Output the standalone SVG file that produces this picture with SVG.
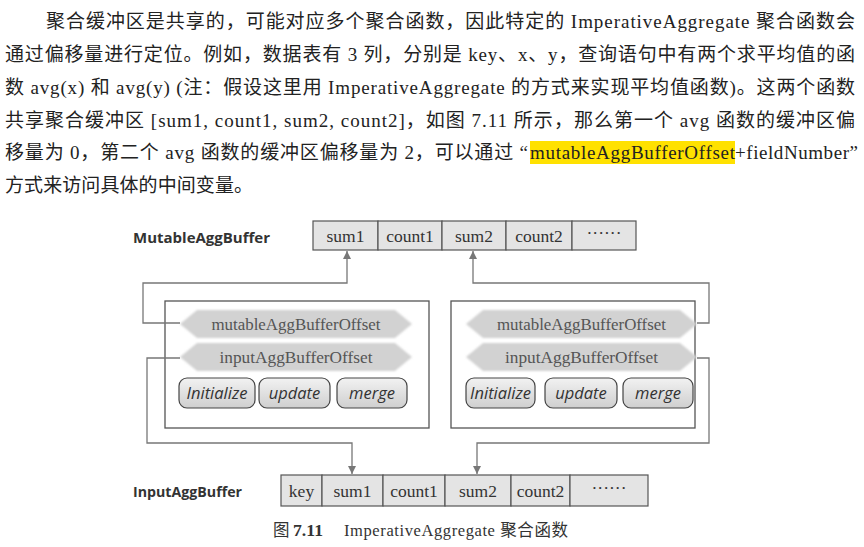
<svg xmlns="http://www.w3.org/2000/svg" width="864" height="547" viewBox="0 0 864 547">
  <style>
    .body { font-family: "Liberation Serif", "Noto Sans CJK SC", serif; font-size: 19px; fill: #222; }
    .lbl { font-family: "Open Sans", "Liberation Sans", sans-serif; font-weight: bold; font-size: 15px; fill: #333; }
    .cell { fill: #e4e4e4; stroke: #555; stroke-width: 1.2; }
    .ctext { font-family: "Liberation Serif", serif; font-size: 17.5px; fill: #333; text-anchor: middle; }
    .box { fill: #fff; stroke: #555; stroke-width: 1.3; }
    .hex { fill: #d2d2d2; }
    .htext { font-family: "Liberation Serif", serif; font-size: 16.5px; fill: #555; text-anchor: middle; }
    .btn { fill: url(#btnGrad); stroke: #444; stroke-width: 1.2; }
    .btext { font-family: "Open Sans", "Liberation Sans", sans-serif; font-style: italic; font-size: 16.5px; fill: #333; text-anchor: middle; }
    .conn { fill: none; stroke: #777; stroke-width: 1.3; }
    .cap { font-family: "Liberation Serif", "Noto Sans CJK SC", serif; font-size: 16.5px; fill: #333; }
  </style>
  <defs>
    <linearGradient id="btnGrad" x1="0" y1="0" x2="0" y2="1">
      <stop offset="0" stop-color="#f2f2f2"/>
      <stop offset="1" stop-color="#cfcfcf"/>
    </linearGradient>
    <filter id="soft" x="-5%" y="-20%" width="110%" height="140%">
      <feGaussianBlur stdDeviation="0.9"/>
    </filter>
    <marker id="arr" viewBox="0 0 10 10" refX="10" refY="5" markerWidth="8" markerHeight="8" markerUnits="userSpaceOnUse" orient="auto">
      <path d="M0,0 L10,5 L0,10 z" fill="#777"/>
    </marker>
  </defs>

  <rect width="864" height="547" fill="#fff"/>

  <!-- body paragraph -->
  <g id="paragraph">
    <rect x="530" y="141" width="205" height="23" fill="#ffe100"/>
    <text class="body" x="46" y="28" textLength="809" lengthAdjust="spacing">聚合缓冲区是共享的，可能对应多个聚合函数，因此特定的 ImperativeAggregate 聚合函数会</text>
    <text class="body" x="5" y="61" textLength="850" lengthAdjust="spacing">通过偏移量进行定位。例如，数据表有 3 列，分别是 key、x、y，查询语句中有两个求平均值的函</text>
    <text class="body" x="5" y="94" textLength="850" lengthAdjust="spacing">数 avg(x) 和 avg(y) (注：假设这里用 ImperativeAggregate 的方式来实现平均值函数)。这两个函数</text>
    <text class="body" x="5" y="127" textLength="850" lengthAdjust="spacing">共享聚合缓冲区 [sum1, count1, sum2, count2]，如图 7.11 所示，那么第一个 avg 函数的缓冲区偏</text>
    <text class="body" y="159">
      <tspan x="5" textLength="523" lengthAdjust="spacing">移量为 0，第二个 avg 函数的缓冲区偏移量为 2，可以通过 “</tspan>
      <tspan x="530" textLength="205" lengthAdjust="spacing">mutableAggBufferOffset</tspan>
      <tspan x="735" textLength="123" lengthAdjust="spacing">+fieldNumber”</tspan>
    </text>
    <text class="body" x="5" y="192" textLength="248" lengthAdjust="spacing">方式来访问具体的中间变量。</text>
  </g>

  <!-- MutableAggBuffer -->
  <g id="mutableAggBuffer">
    <text class="lbl" x="133" y="243" textLength="137" lengthAdjust="spacingAndGlyphs">MutableAggBuffer</text>
    <rect class="cell" x="313" y="221" width="65" height="29"/>
    <rect class="cell" x="378" y="221" width="64" height="29"/>
    <rect class="cell" x="442" y="221" width="64" height="29"/>
    <rect class="cell" x="506" y="221" width="66" height="29"/>
    <rect class="cell" x="572" y="221" width="64" height="29"/>
    <text class="ctext" x="345.5" y="242">sum1</text>
    <text class="ctext" x="410" y="242">count1</text>
    <text class="ctext" x="474" y="242">sum2</text>
    <text class="ctext" x="539" y="242">count2</text>
    <text class="ctext" x="604" y="239">······</text>
  </g>

  <!-- left aggregate function -->
  <g id="aggFunc1">
    <rect class="box" x="165" y="301" width="264" height="127"/>
    <polygon class="hex" filter="url(#soft)" points="180,324 197,310 395,310 412,324 395,338 197,338"/>
    <polygon class="hex" filter="url(#soft)" points="180,357 197,343 395,343 412,357 395,371 197,371"/>
    <text class="htext" x="296" y="330" textLength="169" lengthAdjust="spacingAndGlyphs">mutableAggBufferOffset</text>
    <text class="htext" x="296" y="363" textLength="153" lengthAdjust="spacingAndGlyphs">inputAggBufferOffset</text>
    <rect class="btn" x="179" y="378" width="76" height="30" rx="8"/>
    <rect class="btn" x="259" y="378" width="71" height="30" rx="8"/>
    <rect class="btn" x="337" y="378" width="70" height="30" rx="8"/>
    <text class="btext" x="217" y="399">Initialize</text>
    <text class="btext" x="294.5" y="399">update</text>
    <text class="btext" x="372" y="399">merge</text>
  </g>

  <!-- right aggregate function -->
  <g id="aggFunc2">
    <rect class="box" x="451" y="301" width="244" height="127"/>
    <polygon class="hex" filter="url(#soft)" points="466,324 483,310 680,310 697,324 680,338 483,338"/>
    <polygon class="hex" filter="url(#soft)" points="466,357 483,343 680,343 697,357 680,371 483,371"/>
    <text class="htext" x="581.5" y="330" textLength="169" lengthAdjust="spacingAndGlyphs">mutableAggBufferOffset</text>
    <text class="htext" x="581.5" y="363" textLength="153" lengthAdjust="spacingAndGlyphs">inputAggBufferOffset</text>
    <rect class="btn" x="466" y="378" width="69" height="30" rx="8"/>
    <rect class="btn" x="545" y="378" width="72" height="30" rx="8"/>
    <rect class="btn" x="623" y="378" width="70" height="30" rx="8"/>
    <text class="btext" x="500.5" y="399">Initialize</text>
    <text class="btext" x="581" y="399">update</text>
    <text class="btext" x="658" y="399">merge</text>
  </g>

  <!-- InputAggBuffer -->
  <g id="inputAggBuffer">
    <text class="lbl" x="133" y="497" textLength="109" lengthAdjust="spacingAndGlyphs">InputAggBuffer</text>
    <rect class="cell" x="281" y="475" width="41" height="31"/>
    <rect class="cell" x="322" y="475" width="61" height="31"/>
    <rect class="cell" x="383" y="475" width="62" height="31"/>
    <rect class="cell" x="445" y="475" width="66" height="31"/>
    <rect class="cell" x="511" y="475" width="59" height="31"/>
    <rect class="cell" x="570" y="475" width="78" height="31"/>
    <text class="ctext" x="301.5" y="497">key</text>
    <text class="ctext" x="352.5" y="497">sum1</text>
    <text class="ctext" x="414" y="497">count1</text>
    <text class="ctext" x="478" y="497">sum2</text>
    <text class="ctext" x="540.5" y="497">count2</text>
    <text class="ctext" x="609" y="494">······</text>
  </g>

  <!-- connectors -->
  <g id="connectors">
    <path class="conn" marker-end="url(#arr)" d="M180,323 H143 V283 H347 V251"/>
    <path class="conn" marker-end="url(#arr)" d="M697,323 H709 V283 H473 V251"/>
    <path class="conn" marker-end="url(#arr)" d="M180,358 H147 V443 H352 V474"/>
    <path class="conn" marker-end="url(#arr)" d="M697,358 H709 V443 H477 V474"/>
  </g>

  <!-- caption -->
  <g id="caption">
    <text class="cap" y="536">
      <tspan x="273">图</tspan>
      <tspan x="293" font-weight="bold" textLength="30" lengthAdjust="spacingAndGlyphs">7.11</tspan>
      <tspan x="344" textLength="224" lengthAdjust="spacing">ImperativeAggregate 聚合函数</tspan>
    </text>
  </g>
</svg>
